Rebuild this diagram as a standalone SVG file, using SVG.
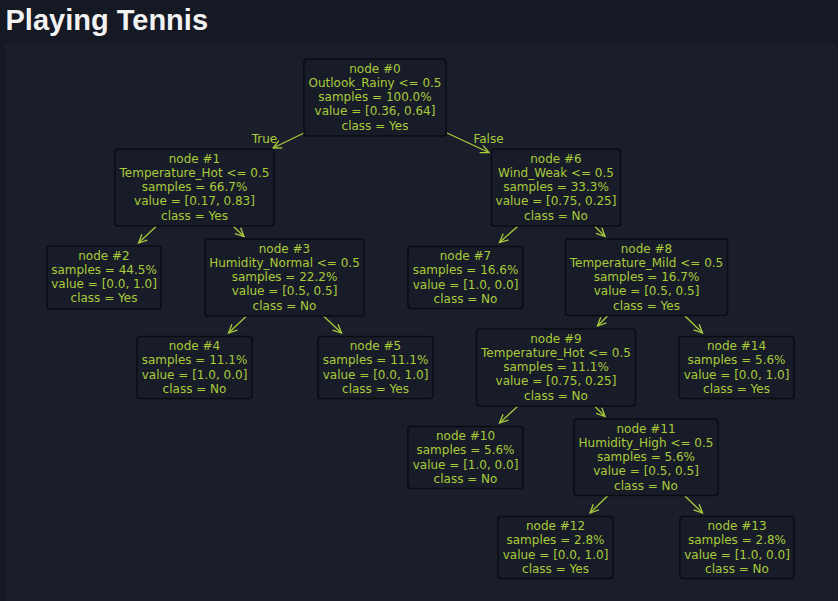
<svg xmlns="http://www.w3.org/2000/svg" width="838" height="601" viewBox="0 0 838 601">
<defs>
<style>
.bg{fill:#151924}
.panel{fill:#1a1e2b}
.title{font-family:"Liberation Sans",Arial,sans-serif;font-weight:bold;font-size:29px;fill:#f2f2f2}
.box{fill:#181c28;stroke:#0a0c11;stroke-width:1.5}
.t{font-family:"DejaVu Sans",sans-serif;font-size:12px;fill:#a9cb3a;text-anchor:middle}
.e{stroke:#a9cb3a;stroke-width:1.3;fill:none}
</style>
<marker id="ah" markerUnits="userSpaceOnUse" markerWidth="14" markerHeight="14" viewBox="-10 -7 14 14" refX="0" refY="0" orient="auto">
<path d="M-8.5,-4 L0,0 L-8.5,4" fill="none" stroke="#a9cb3a" stroke-width="1.3"/>
</marker>
</defs>
<rect class="bg" x="0" y="0" width="838" height="601"/>
<rect class="panel" x="5" y="44" width="832" height="557"/>
<text class="title" x="5.5" y="29.5">Playing Tennis</text>

<g id="connectors">
<line class="e" x1="304" y1="133" x2="273" y2="148" marker-end="url(#ah)"/>
<line class="e" x1="447" y1="133" x2="489" y2="152.5" marker-end="url(#ah)"/>
<line class="e" x1="156.5" y1="226" x2="138.5" y2="243" marker-end="url(#ah)"/>
<line class="e" x1="233.5" y1="226.5" x2="244" y2="236.5" marker-end="url(#ah)"/>
<line class="e" x1="246.5" y1="316" x2="228.5" y2="333" marker-end="url(#ah)"/>
<line class="e" x1="323.5" y1="316" x2="341.5" y2="333" marker-end="url(#ah)"/>
<line class="e" x1="517.5" y1="226.5" x2="499.5" y2="242.5" marker-end="url(#ah)"/>
<line class="e" x1="595" y1="226.5" x2="605" y2="236.5" marker-end="url(#ah)"/>
<line class="e" x1="607.5" y1="316" x2="597.5" y2="326" marker-end="url(#ah)"/>
<line class="e" x1="685" y1="316" x2="702.5" y2="333" marker-end="url(#ah)"/>
<line class="e" x1="517.5" y1="406.5" x2="499.5" y2="423" marker-end="url(#ah)"/>
<line class="e" x1="595" y1="406.5" x2="605" y2="416.5" marker-end="url(#ah)"/>
<line class="e" x1="607.5" y1="496" x2="590" y2="513" marker-end="url(#ah)"/>
<line class="e" x1="685" y1="496" x2="702.5" y2="513" marker-end="url(#ah)"/>
<text class="t" x="264.5" y="142.5">True</text>
<text class="t" x="488.5" y="142.5">False</text>
</g>

<g id="node0">
<rect class="box" x="304" y="59" width="142" height="77" rx="3"/>
<text class="t" x="375" y="72.7"><tspan x="375">node #0</tspan><tspan x="375" dy="14.25">Outlook_Rainy &lt;= 0.5</tspan><tspan x="375" dy="14.25">samples = 100.0%</tspan><tspan x="375" dy="14.25">value = [0.36, 0.64]</tspan><tspan x="375" dy="14.25">class = Yes</tspan></text>
</g>
<g id="node1">
<rect class="box" x="115" y="149" width="159" height="77" rx="3"/>
<text class="t" x="194.5" y="162.7"><tspan x="194.5">node #1</tspan><tspan x="194.5" dy="14.25">Temperature_Hot &lt;= 0.5</tspan><tspan x="194.5" dy="14.25">samples = 66.7%</tspan><tspan x="194.5" dy="14.25">value = [0.17, 0.83]</tspan><tspan x="194.5" dy="14.25">class = Yes</tspan></text>
</g>
<g id="node6">
<rect class="box" x="491.5" y="149" width="129" height="77" rx="3"/>
<text class="t" x="556" y="162.7"><tspan x="556">node #6</tspan><tspan x="556" dy="14.25">Wind_Weak &lt;= 0.5</tspan><tspan x="556" dy="14.25">samples = 33.3%</tspan><tspan x="556" dy="14.25">value = [0.75, 0.25]</tspan><tspan x="556" dy="14.25">class = No</tspan></text>
</g>
<g id="node2">
<rect class="box" x="47" y="246" width="114" height="63" rx="3"/>
<text class="t" x="104" y="259.5"><tspan x="104">node #2</tspan><tspan x="104" dy="14.25">samples = 44.5%</tspan><tspan x="104" dy="14.25">value = [0.0, 1.0]</tspan><tspan x="104" dy="14.25">class = Yes</tspan></text>
</g>
<g id="node3">
<rect class="box" x="205" y="239" width="159" height="77" rx="3"/>
<text class="t" x="284.5" y="252.7"><tspan x="284.5">node #3</tspan><tspan x="284.5" dy="14.25">Humidity_Normal &lt;= 0.5</tspan><tspan x="284.5" dy="14.25">samples = 22.2%</tspan><tspan x="284.5" dy="14.25">value = [0.5, 0.5]</tspan><tspan x="284.5" dy="14.25">class = No</tspan></text>
</g>
<g id="node7">
<rect class="box" x="408" y="246.5" width="115" height="62" rx="3"/>
<text class="t" x="465.5" y="260"><tspan x="465.5">node #7</tspan><tspan x="465.5" dy="14.25">samples = 16.6%</tspan><tspan x="465.5" dy="14.25">value = [1.0, 0.0]</tspan><tspan x="465.5" dy="14.25">class = No</tspan></text>
</g>
<g id="node8">
<rect class="box" x="565.5" y="239" width="162" height="76.5" rx="3"/>
<text class="t" x="646.5" y="252.7"><tspan x="646.5">node #8</tspan><tspan x="646.5" dy="14.25">Temperature_Mild &lt;= 0.5</tspan><tspan x="646.5" dy="14.25">samples = 16.7%</tspan><tspan x="646.5" dy="14.25">value = [0.5, 0.5]</tspan><tspan x="646.5" dy="14.25">class = Yes</tspan></text>
</g>
<g id="node4">
<rect class="box" x="137" y="336.5" width="115" height="62" rx="3"/>
<text class="t" x="194.5" y="350"><tspan x="194.5">node #4</tspan><tspan x="194.5" dy="14.25">samples = 11.1%</tspan><tspan x="194.5" dy="14.25">value = [1.0, 0.0]</tspan><tspan x="194.5" dy="14.25">class = No</tspan></text>
</g>
<g id="node5">
<rect class="box" x="318" y="336.5" width="115" height="62" rx="3"/>
<text class="t" x="375.5" y="350"><tspan x="375.5">node #5</tspan><tspan x="375.5" dy="14.25">samples = 11.1%</tspan><tspan x="375.5" dy="14.25">value = [0.0, 1.0]</tspan><tspan x="375.5" dy="14.25">class = Yes</tspan></text>
</g>
<g id="node9">
<rect class="box" x="476.5" y="329" width="159" height="77" rx="3"/>
<text class="t" x="556" y="342.7"><tspan x="556">node #9</tspan><tspan x="556" dy="14.25">Temperature_Hot &lt;= 0.5</tspan><tspan x="556" dy="14.25">samples = 11.1%</tspan><tspan x="556" dy="14.25">value = [0.75, 0.25]</tspan><tspan x="556" dy="14.25">class = No</tspan></text>
</g>
<g id="node14">
<rect class="box" x="679" y="336.5" width="115" height="62" rx="3"/>
<text class="t" x="736.5" y="350"><tspan x="736.5">node #14</tspan><tspan x="736.5" dy="14.25">samples = 5.6%</tspan><tspan x="736.5" dy="14.25">value = [0.0, 1.0]</tspan><tspan x="736.5" dy="14.25">class = Yes</tspan></text>
</g>
<g id="node10">
<rect class="box" x="408" y="426.5" width="115" height="62" rx="3"/>
<text class="t" x="465.5" y="440"><tspan x="465.5">node #10</tspan><tspan x="465.5" dy="14.25">samples = 5.6%</tspan><tspan x="465.5" dy="14.25">value = [1.0, 0.0]</tspan><tspan x="465.5" dy="14.25">class = No</tspan></text>
</g>
<g id="node11">
<rect class="box" x="574" y="419" width="144" height="76.5" rx="3"/>
<text class="t" x="646" y="432.7"><tspan x="646">node #11</tspan><tspan x="646" dy="14.25">Humidity_High &lt;= 0.5</tspan><tspan x="646" dy="14.25">samples = 5.6%</tspan><tspan x="646" dy="14.25">value = [0.5, 0.5]</tspan><tspan x="646" dy="14.25">class = No</tspan></text>
</g>
<g id="node12">
<rect class="box" x="498" y="516.5" width="115" height="62" rx="3"/>
<text class="t" x="555.5" y="530"><tspan x="555.5">node #12</tspan><tspan x="555.5" dy="14.25">samples = 2.8%</tspan><tspan x="555.5" dy="14.25">value = [0.0, 1.0]</tspan><tspan x="555.5" dy="14.25">class = Yes</tspan></text>
</g>
<g id="node13">
<rect class="box" x="680" y="516.5" width="114" height="62" rx="3"/>
<text class="t" x="737" y="530"><tspan x="737">node #13</tspan><tspan x="737" dy="14.25">samples = 2.8%</tspan><tspan x="737" dy="14.25">value = [1.0, 0.0]</tspan><tspan x="737" dy="14.25">class = No</tspan></text>
</g>
</svg>
